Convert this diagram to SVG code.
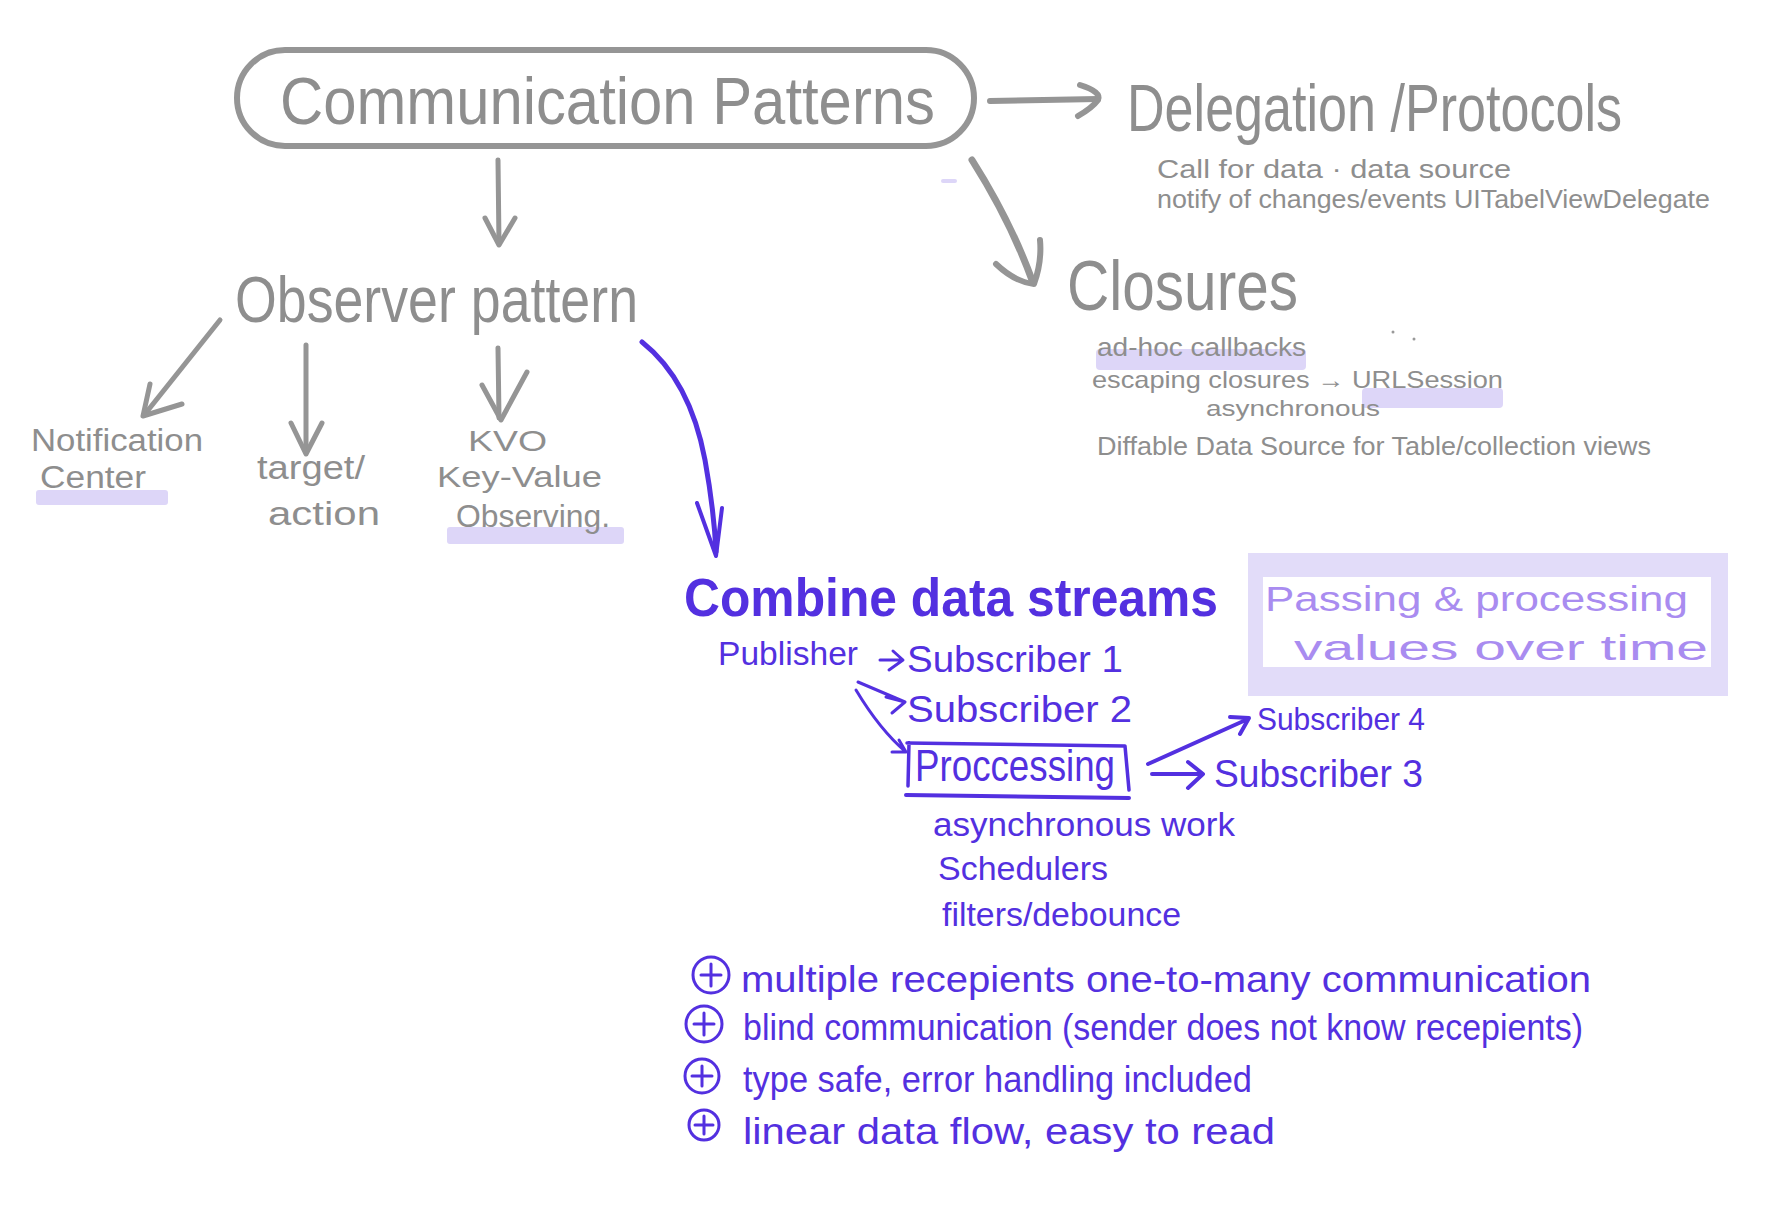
<svg xmlns="http://www.w3.org/2000/svg" width="1788" height="1214" viewBox="0 0 1788 1214">
<style>
  text { font-family: "Liberation Sans", Arial, sans-serif; }
  .g { fill: #8e8e8e; }
  .b { fill: #5330e0; }
  .lp { fill: #a98cf0; }
  .gs { stroke: #959595; fill: none; stroke-linecap: round; stroke-linejoin: round; }
  .bs { stroke: #5330e0; fill: none; stroke-linecap: round; stroke-linejoin: round; }
  .hl { fill: #ddd6f8; }
</style>
<rect width="1788" height="1214" fill="#ffffff"/>

<g id="connectors">
  <!-- title -> Delegation -->
  <path class="gs" stroke-width="6" d="M990 101 L1098 99"/>
  <path class="gs" stroke-width="6" d="M1080 85 Q1102 92 1098 100 Q1092 108 1078 116"/>
  <!-- title -> Closures -->
  <path class="gs" stroke-width="7" d="M972 160 Q1010 220 1032 280"/>
  <path class="gs" stroke-width="6" d="M996 264 Q1015 282 1034 284 Q1042 262 1040 240"/>
  <!-- title -> Observer pattern -->
  <path class="gs" stroke-width="5" d="M498 160 L499 244"/>
  <path class="gs" stroke-width="5" d="M485 218 L499 245 L515 218"/>
  <!-- Observer -> Notification -->
  <path class="gs" stroke-width="5" d="M220 320 L145 414"/>
  <path class="gs" stroke-width="5" d="M150 384 L143 416 L182 404"/>
  <!-- Observer -> target/action -->
  <path class="gs" stroke-width="5" d="M306 345 L306 452"/>
  <path class="gs" stroke-width="5" d="M291 423 L306 454 L322 423"/>
  <!-- Observer -> KVO -->
  <path class="gs" stroke-width="5" d="M498 348 L499 418"/>
  <path class="gs" stroke-width="5" d="M482 385 L501 420 L527 372"/>
  <!-- Observer -> Combine -->
  <path class="bs" stroke-width="5" d="M642 342 Q690 380 705 460 Q714 510 716 552"/>
  <path class="bs" stroke-width="4" d="M697 503 L716 556 L722 508"/>
  <!-- Publisher -> Subscriber 1 -->
  <path class="bs" stroke-width="3" d="M880 660 L902 660 M893 651 L903 660 L889 670"/>
  <!-- Publisher -> Subscriber 2 -->
  <path class="bs" stroke-width="3" d="M858 682 L905 702 M886 697 L905 702 M892 713 L905 702"/>
  <!-- Publisher -> Proccessing -->
  <path class="bs" stroke-width="3" d="M856 690 Q880 730 906 752 M892 752 L906 752 L899 740"/>
  <!-- Proccessing -> Subscriber 4 -->
  <path class="bs" stroke-width="4" d="M1148 764 L1248 719 M1230 717 L1249 718 L1240 734"/>
  <!-- Proccessing -> Subscriber 3 -->
  <path class="bs" stroke-width="4" d="M1152 774 L1202 774 M1188 762 L1203 774 L1188 788"/>
</g>

<g id="title">
  <rect class="gs" stroke-width="6" x="237" y="50" width="737" height="96" rx="48"/>
  <text class="g" x="280" y="124" font-size="66" textLength="655" lengthAdjust="spacingAndGlyphs">Communication Patterns</text>
</g>

<g id="delegation">
  <text class="g" x="1127" y="131" font-size="66" textLength="495" lengthAdjust="spacingAndGlyphs">Delegation /Protocols</text>
  <text class="g" x="1157" y="178" font-size="25" textLength="354" lengthAdjust="spacingAndGlyphs">Call for data · data source</text>
  <text class="g" x="1157" y="208" font-size="25" textLength="553" lengthAdjust="spacingAndGlyphs">notify of changes/events  UITabelViewDelegate</text>
</g>

<g id="closures">
  <path d="M943 181 L955 181" stroke="#ddd6f8" stroke-width="4" stroke-linecap="round"/>
  <text class="g" x="1067" y="310" font-size="70" textLength="231" lengthAdjust="spacingAndGlyphs">Closures</text>
  <circle cx="1393" cy="332" r="1.5" fill="#999"/>
  <circle cx="1414" cy="339" r="1.5" fill="#999"/>
  <rect class="hl" x="1096" y="349" width="210" height="21" rx="4"/>
  <rect class="hl" x="1362" y="388" width="141" height="20" rx="4"/>
  <text class="g" x="1097" y="356" font-size="25" textLength="209" lengthAdjust="spacingAndGlyphs">ad-hoc callbacks</text>
  <text class="g" x="1092" y="388" font-size="24" textLength="411" lengthAdjust="spacingAndGlyphs">escaping closures → URLSession</text>
  <text class="g" x="1206" y="416" font-size="22" textLength="174" lengthAdjust="spacingAndGlyphs">asynchronous</text>
  <text class="g" x="1097" y="455" font-size="25" textLength="554" lengthAdjust="spacingAndGlyphs">Diffable Data Source for Table/collection views</text>
</g>

<g id="observer">
  <text class="g" x="235" y="322" font-size="64" textLength="403" lengthAdjust="spacingAndGlyphs">Observer pattern</text>
</g>

<g id="notification">
  <rect class="hl" x="36" y="490" width="132" height="15" rx="3"/>
  <text class="g" x="31" y="451" font-size="31" textLength="172" lengthAdjust="spacingAndGlyphs">Notification</text>
  <text class="g" x="40" y="488" font-size="31" textLength="106" lengthAdjust="spacingAndGlyphs">Center</text>
</g>

<g id="target-action">
  <text class="g" x="257" y="479" font-size="33" textLength="108" lengthAdjust="spacingAndGlyphs">target/</text>
  <text class="g" x="268" y="525" font-size="33" textLength="112" lengthAdjust="spacingAndGlyphs">action</text>
</g>

<g id="kvo">
  <rect class="hl" x="447" y="527" width="177" height="17" rx="3"/>
  <text class="g" x="468" y="451" font-size="29" textLength="79" lengthAdjust="spacingAndGlyphs">KVO</text>
  <text class="g" x="437" y="487" font-size="29" textLength="165" lengthAdjust="spacingAndGlyphs">Key-Value</text>
  <text class="g" x="456" y="527" font-size="31" textLength="154" lengthAdjust="spacingAndGlyphs">Observing.</text>
</g>

<g id="combine">
  <text class="b" x="684" y="616" font-size="53" font-weight="bold" textLength="534" lengthAdjust="spacingAndGlyphs">Combine data streams</text>
</g>

<g id="passing">
  <rect x="1248" y="553" width="480" height="143" fill="#ddd6f8" opacity="0.85"/>
  <rect x="1263" y="577" width="448" height="90" fill="#ffffff"/>
  <text class="lp" x="1265" y="611" font-size="35" textLength="423" lengthAdjust="spacingAndGlyphs">Passing &amp; processing</text>
  <text class="lp" x="1294" y="660" font-size="35" textLength="414" lengthAdjust="spacingAndGlyphs">values over time</text>
</g>

<g id="publisher">
  <text class="b" x="718" y="665" font-size="34" textLength="140" lengthAdjust="spacingAndGlyphs">Publisher</text>
</g>
<g id="subscriber1">
  <text class="b" x="907" y="672" font-size="36" textLength="216" lengthAdjust="spacingAndGlyphs">Subscriber 1</text>
</g>
<g id="subscriber2">
  <text class="b" x="907" y="722" font-size="36" textLength="225" lengthAdjust="spacingAndGlyphs">Subscriber 2</text>
</g>
<g id="processing">
  <path class="bs" stroke-width="3.5" d="M907 743 L1125 746 L1129 790 M909 743 L908 786"/>
  <path class="bs" stroke-width="4" d="M906 795 L1129 798"/>
  <text class="b" x="915" y="781" font-size="44" textLength="200" lengthAdjust="spacingAndGlyphs">Proccessing</text>
</g>
<g id="subscriber4">
  <text class="b" x="1257" y="730" font-size="32" textLength="168" lengthAdjust="spacingAndGlyphs">Subscriber 4</text>
</g>
<g id="subscriber3">
  <text class="b" x="1214" y="787" font-size="38" textLength="209" lengthAdjust="spacingAndGlyphs">Subscriber 3</text>
</g>
<g id="processing-notes">
  <text class="b" x="933" y="836" font-size="34" textLength="302" lengthAdjust="spacingAndGlyphs">asynchronous work</text>
  <text class="b" x="938" y="880" font-size="34" textLength="170" lengthAdjust="spacingAndGlyphs">Schedulers</text>
  <text class="b" x="942" y="926" font-size="34" textLength="239" lengthAdjust="spacingAndGlyphs">filters/debounce</text>
</g>

<g id="advantages">
  <g class="bs" stroke-width="3">
    <circle cx="711" cy="975" r="18"/>
    <path d="M701 975 L721 975 M711 964 L711 986"/>
    <circle cx="704" cy="1024" r="18"/>
    <path d="M694 1024 L714 1024 M704 1013 L704 1035"/>
    <circle cx="702" cy="1076" r="17"/>
    <path d="M692 1076 L712 1076 M702 1066 L702 1086"/>
    <circle cx="704" cy="1125" r="15"/>
    <path d="M695 1125 L713 1125 M704 1116 L704 1134"/>
  </g>
  <text class="b" x="741" y="992" font-size="36" textLength="850" lengthAdjust="spacingAndGlyphs">multiple recepients  one-to-many communication</text>
  <text class="b" x="743" y="1040" font-size="36" textLength="840" lengthAdjust="spacingAndGlyphs">blind communication (sender does not know recepients)</text>
  <text class="b" x="743" y="1092" font-size="36" textLength="509" lengthAdjust="spacingAndGlyphs">type safe, error handling included</text>
  <text class="b" x="743" y="1144" font-size="36" textLength="532" lengthAdjust="spacingAndGlyphs">linear data flow, easy to read</text>
</g>
</svg>
